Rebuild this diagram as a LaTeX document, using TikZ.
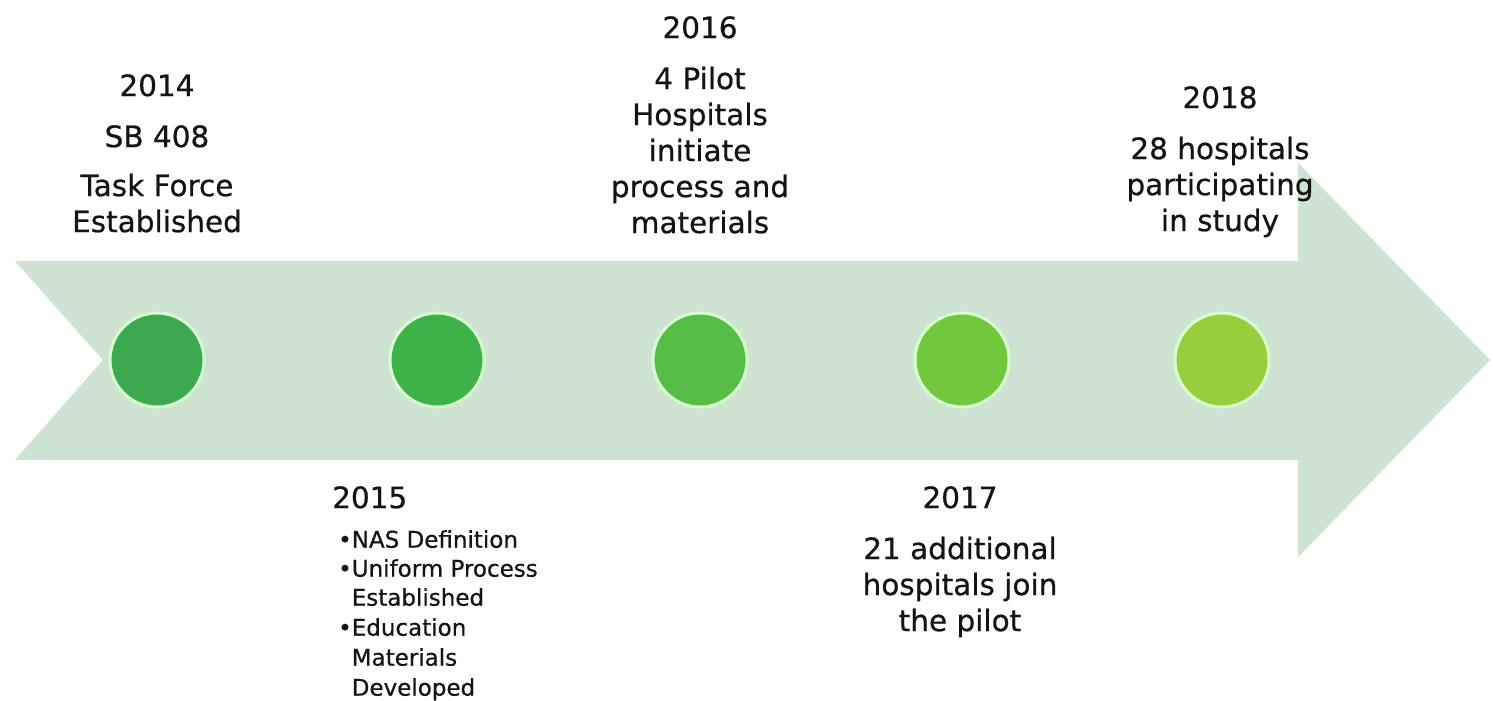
\documentclass[tikz,border=0pt]{standalone}
\usepackage{fontspec}
\setmainfont{DejaVu Sans}[FakeBold=0.6]
\definecolor{band}{RGB}{206,227,210}
\definecolor{rim}{RGB}{214,255,208}
\definecolor{ink}{RGB}{20,20,20}
\definecolor{g14}{RGB}{60,168,80}
\definecolor{g15}{RGB}{60,178,72}
\definecolor{g16}{RGB}{86,190,70}
\definecolor{g17}{RGB}{114,200,60}
\definecolor{g18}{RGB}{152,206,60}
\begin{document}
\begin{tikzpicture}[x=1pt,y=-1pt,
		dot/.style={circle,draw=rim,line width=3pt,minimum size=94pt,inner sep=0pt},
		bigtext/.style={align=center,anchor=north,inner sep=0pt,text=ink,
			font=\fontsize{29.5}{36}\selectfont},
		smalltext/.style={align=left,anchor=north west,inner sep=0pt,text=ink,
			font=\fontsize{23}{29}\selectfont},]

\useasboundingbox (0,0) rectangle (1493,701);

% the band
\fill[band] (15,261) -- (1298,261) -- (1298,163) -- (1490,360) -- (1298,557)
	-- (1298,460) -- (15,460) -- (103,360) -- cycle;

% the milestones
\node[dot,fill=g14] (d2014) at (157,360) {};
\node[dot,fill=g15] (d2015) at (437,360) {};
\node[dot,fill=g16] (d2016) at (700,360) {};
\node[dot,fill=g17] (d2017) at (962,360) {};
\node[dot,fill=g18] (d2018) at (1222,360) {};

% above the band
\node[bigtext] (t2014) at (157,74) {2014\\[15pt]SB 408\\[13pt]Task Force\\Established};
\node[bigtext] (t2016) at (700,16) {2016\\[15pt]4 Pilot\\Hospitals\\initiate\\process and\\materials};
\node[bigtext] (t2018) at (1220,86) {2018\\[15pt]28 hospitals\\participating\\in study};

% below the band
\node[bigtext,anchor=north west] (t2015) at (332,486) {2015};
\node[smalltext] (l2015) at (338,530) {•NAS Definition\\•Uniform Process\\\phantom{•}Established\\[1pt]
	•Education\\[1pt]\phantom{•}Materials\\[1pt]\phantom{•}Developed};
\node[bigtext] (t2017) at (960,486) {2017\\[15pt]21 additional\\hospitals join\\the pilot};
\end{tikzpicture}
\end{document}
